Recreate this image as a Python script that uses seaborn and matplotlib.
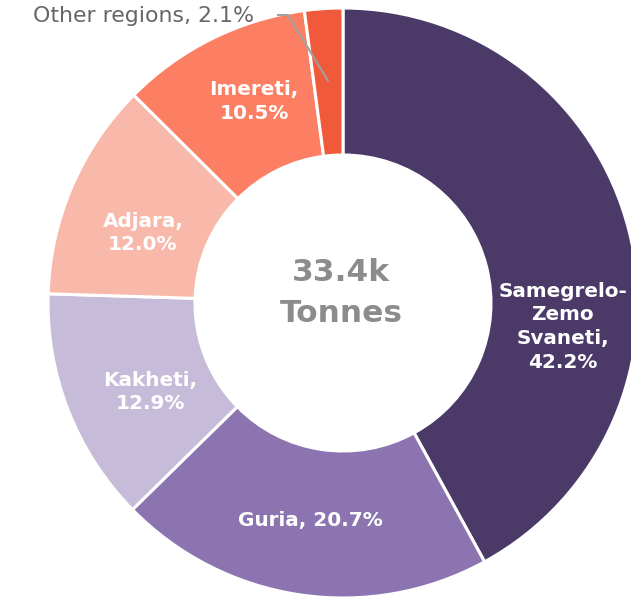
import numpy as np
import matplotlib
matplotlib.use("Agg")
import matplotlib.pyplot as plt
import seaborn as sns

# --- data ---
regions = ["Samegrelo-Zemo Svaneti", "Guria", "Kakheti", "Adjara", "Imereti", "Other regions"]
shares = [42.2, 20.7, 12.9, 12.0, 10.5, 2.1]
label_texts = ["Samegrelo-\nZemo\nSvaneti,\n42.2%", "Guria, 20.7%", "Kakheti,\n12.9%",
               "Adjara,\n12.0%", "Imereti,\n10.5%", "Other regions, 2.1%"]
total_label = "33.4k\nTonnes"
colors = sns.color_palette(["#4b3a68", "#8c74b0", "#c6bcd9", "#f8b9ab", "#fc7e63", "#f05a3a"])

# small nudges so inside labels sit like the original (degrees, radius px)
angle_nudge = [-20.5, 0, 3.5, 4, -2.5, 0]
radius_lab = [221, 220, 212, 212, 220, 0]

sns.set_theme(style="white")
plt.rcParams['font.family'] = ['DejaVu Sans']

fig = plt.figure(figsize=(6.31, 5.98), dpi=100)
ax = fig.add_axes([0, 0, 1, 1])

cx, cy, R, ring = 343, 295, 295, 147
wedges, _ = ax.pie(shares, colors=colors, startangle=90, counterclock=False,
                   radius=R, center=(cx, cy), frame=True,
                   wedgeprops=dict(width=ring, edgecolor='white', linewidth=2.2))
ax.set_xlim(0, 631)
ax.set_ylim(0, 598)
ax.axis('off')

fracs = np.array(shares) / sum(shares)
starts = np.concatenate([[0], np.cumsum(fracs)[:-1]])
mids = 90 - (starts + fracs / 2) * 360

for i in range(5):
    a = np.deg2rad(mids[i] + angle_nudge[i])
    r = radius_lab[i]
    ax.text(cx + r * np.cos(a), cy + r * np.sin(a), label_texts[i],
            ha='center', va='center', color='white', fontsize=14.4, fontweight='bold',
            linespacing=1.32)

# outside label for the small slice
a = np.deg2rad(mids[5])
px, py = cx + 222 * np.cos(a), cy + 222 * np.sin(a)
ax.plot([px, 288, 277], [py, 583, 583], color='#a0a0a0', lw=1.5, solid_capstyle='butt')
ax.text(254, 582, label_texts[5], ha='right', va='center', color='#666666', fontsize=15.8)

ax.text(cx - 2, 305, total_label, ha='center', va='center', color='#8c8c8c',
        fontsize=22.5, fontweight='bold', linespacing=1.5)

fig.savefig("out.png", dpi=100)
